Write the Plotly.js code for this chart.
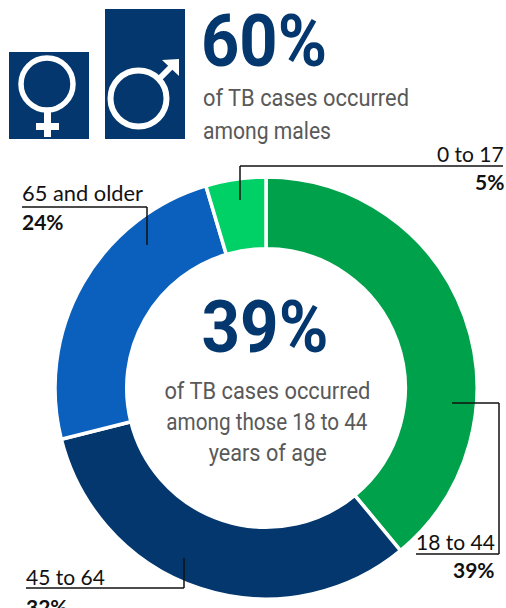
<!DOCTYPE html>
<html><head><meta charset="utf-8">
<script src="https://cdn.plot.ly/plotly-3.0.1.min.js"></script>
<style>html,body{margin:0;padding:0;background:#fff}#c{width:506px;height:608px}</style>
</head><body><div id="c"></div>
<script>
const ageGroups = ['18 to 44','45 to 64','65 and older','0 to 17'];
const shares = [39,32.1,24.3,4.6];
const shareLabels = ['39%','32%','24%','5%'];
const sliceColors = ['#00A14B','#03376D','#0A60BC','#00D167'];
const W=506,H=608;
const px=x=>x/W, py=y=>1-y/H;
const NAVY='#03376D', GREY='#595959', BLACK='#111111';
const BODY='Roboto,sans-serif', LBL='Lato,"Open Sans",sans-serif';
function rect(x0,y0,x1,y1,c){return {type:'rect',xref:'paper',yref:'paper',x0:px(x0),x1:px(x1),y0:py(y0),y1:py(y1),fillcolor:c,line:{width:0},layer:'above'};}
function circ(cx,cy,r,w){return {type:'circle',xref:'paper',yref:'paper',x0:px(cx-r),x1:px(cx+r),y0:py(cy+r),y1:py(cy-r),fillcolor:'rgba(0,0,0,0)',line:{color:'#fff',width:w},layer:'above'};}
function seg(x0,y0,x1,y1,c,w){return {type:'line',xref:'paper',yref:'paper',x0:px(x0),x1:px(x1),y0:py(y0),y1:py(y1),line:{color:c,width:w},layer:'above'};}
function tri(a,b,c){return {type:'path',xref:'paper',yref:'paper',path:`M${px(a[0])},${py(a[1])}L${px(b[0])},${py(b[1])}L${px(c[0])},${py(c[1])}Z`,fillcolor:'#fff',line:{width:0},layer:'above'};}
function txt(x,y,t,size,color,family,anchor,bold){return {xref:'paper',yref:'paper',x:px(x),y:py(y),text:bold?'<b>'+t+'</b>':t,showarrow:false,xanchor:anchor||'left',yanchor:'middle',font:{size:size,color:color,family:family},align:anchor||'left'};}
const shapes=[
 rect(9,52,89,139,NAVY), rect(105,9,185,139,NAVY),
 circ(47,84,26,5.5), seg(47.5,110,47.5,137,'#fff',7), seg(36,126.5,59,126.5,'#fff',7),
 circ(138.5,98.5,28,6), seg(158,80,172,66,'#fff',6), tri([162,60],[179,59],[179,76]),
 seg(240,200,240,166,BLACK,1.5), seg(240,166,503,166,BLACK,1.5),
 seg(147,245,147,207,BLACK,1.5), seg(147,207,22,207,BLACK,1.5),
 seg(452,403,499,403,BLACK,1.5), seg(499,403,499,554,BLACK,1.5), seg(499,554,416,554,BLACK,1.5),
 seg(184,558,184,588,BLACK,1.5), seg(184,588,26,588,BLACK,1.5)
];
const annotations=[
 txt(199,41,'60%',72,NAVY,BODY,'left',true),
 txt(201,99,'of TB cases occurred',23,GREY,BODY),
 txt(201,131,'among males',23,GREY,BODY),
 txt(264.5,327,'39%',72,NAVY,BODY,'center',true),
 txt(267,391,'of TB cases occurred',23,GREY,BODY,'center'),
 txt(267,422,'among those 18 to 44',23,GREY,BODY,'center'),
 txt(267,453,'years of age',23,GREY,BODY,'center'),
 txt(506,153,ageGroups[3],21,BLACK,LBL,'right'),
 txt(506,181,shareLabels[3],21,BLACK,LBL,'right',true),
 txt(20,192,ageGroups[2],21,BLACK,LBL),
 txt(20,221,shareLabels[2],21,BLACK,LBL,'left',true),
 txt(414,541,ageGroups[0],21,BLACK,LBL),
 txt(497,569,shareLabels[0],21,BLACK,LBL,'right',true),
 txt(24,576,ageGroups[1],21,BLACK,LBL),
 txt(24,606,shareLabels[1],21,BLACK,LBL,'left',true)
];
const bigWidths={'60%':126,'39%':127};
const bodyWidths={'of TB cases occurred':206,'among males':128,'among those 18 to 44':201,'years of age':118,'65 and older':121};
Plotly.newPlot('c',[{type:'pie',labels:ageGroups,values:shares,hole:0.66,sort:false,direction:'clockwise',rotation:0,
 marker:{colors:sliceColors,line:{color:'#fff',width:3.5}},textinfo:'none',hoverinfo:'label+percent',
 domain:{x:[55/W,477/W],y:[(H-599)/H,(H-177)/H]},showlegend:false}],
 {width:W,height:H,margin:{l:0,r:0,t:0,b:0},paper_bgcolor:'#fff',showlegend:false,shapes,annotations},
 {displayModeBar:false,staticPlot:true}).then(()=>{
  document.querySelectorAll('.annotation-text').forEach(t=>{
    const big=parseFloat(t.style.fontSize)>40;
    const w=big?bigWidths[t.textContent]:bodyWidths[t.textContent];
    if(w){t.setAttribute('textLength',w);t.setAttribute('lengthAdjust','spacingAndGlyphs');}
  });
 });
</script></body></html>
